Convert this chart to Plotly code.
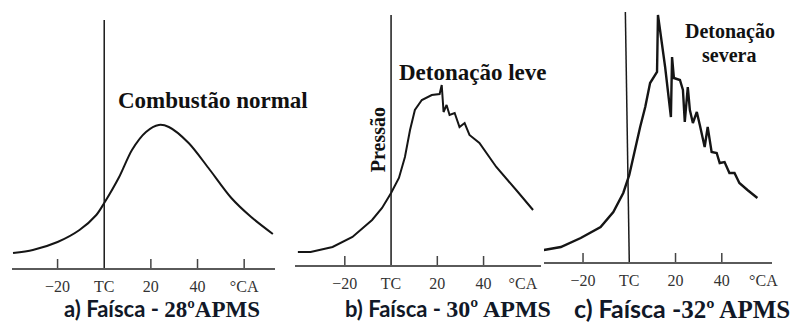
import plotly.graph_objects as go

W, H = 806, 322

# ---------------- data (crank angle in degrees, pressure in arbitrary units) -------------
a_deg = [-39.1, -30.6, -20.0, -10.6, -3.4, 0.0, 6.4, 11.9, 17.9, 23.4, 27.7, 36.2, 44.7, 54.5, 63.0, 72.3]
a_p = [15, 18, 26, 38, 53, 65, 91, 118, 136, 143, 141, 125, 100, 70, 51, 34]

b_deg = [-40.3, -34.8, -25.3, -16.7, -8.2, -3.9, 0.0, 3.4, 6.0, 8.2, 10.3, 13.3, 17.6, 21.0, 21.9,
         22.7, 24.0, 25.3, 27.5, 29.6, 31.8, 33.9, 38.2, 45.5, 54.1, 61.4]
b_p = [13, 13, 18, 28, 45, 57, 72, 87, 108, 135, 155, 165, 170, 171, 180,
       153, 160, 150, 152, 138, 142, 130, 122, 98, 75, 55]

c_deg = [-36.9, -29.6, -21.0, -12.4, -6.9, -2.6, 0.0, 2.6, 4.7, 6.9, 9.0, 12.0, 12.4, 13.3, 15.5,
         18.0, 18.5, 19.3, 21.9, 23.2, 24.0, 25.3, 26.2, 27.5, 29.2, 30.5, 32.6, 33.9, 35.6, 37.8,
         39.1, 41.2, 43.3, 45.5, 47.6, 51.1, 55.4]
c_p = [12, 15, 24, 35, 50, 69, 87, 115, 135, 155, 179, 190, 247, 232, 195,
       145, 205, 184, 182, 172, 140, 175, 152, 139, 150, 137, 115, 135, 110, 109,
       99, 100, 89, 89, 79, 72, 64]

tick_vals = [-20, 0, 20, 40]
tick_text = ["\u221220", "TC", "20", "40"]
ca_label_pos = [60, 57, 58]
tick_marks = [[-20, 20, 40, 60], [-20, 20, 40], [-20, 20, 40]]
tc_top = [248, 250, 250]
tc_top_x = [0.0, 0.0, -1.7]

titles = ["Combustão normal", "Detonação leve", "Detonação", "severa"]
captions = [("a) Faísca - ", "28ºAPMS"), ("b) Faísca - ", "30º APMS"), ("c) Faísca -", "32º APMS")]

# ---------------- layout geometry (pixels) ----------------
panels = [
    dict(x0=12, x1=277, tc=105, scale=2.35, base=268),
    dict(x0=297, x1=545, tc=394, scale=2.33, base=265),
    dict(x0=548, x1=778, tc=634, scale=2.33, base=262),
]
TOP = 10

def fx(px):
    return px / W

def fy(py):
    return (H - py) / H

fig = go.Figure()
series = [(a_deg, a_p, "spline"), (b_deg, b_p, "linear"), (c_deg, c_p, "linear")]
widths = [2, 2, 2.4]
shapes = []
annotations = []
serif = "Liberation Serif"

for i, (p, (xs, ys, shape)) in enumerate(zip(panels, series)):
    n = "" if i == 0 else str(i + 1)
    xr = [(p["x0"] - p["tc"]) / p["scale"], (p["x1"] - p["tc"]) / p["scale"]]
    fig.add_trace(go.Scatter(x=xs, y=ys, mode="lines",
                             line=dict(color="#151515", width=widths[i], shape=shape, smoothing=0.8),
                             xaxis="x" + n, yaxis="y" + n, showlegend=False, hoverinfo="skip"))
    fig.layout["xaxis" + n] = dict(
        domain=[fx(p["x0"]), fx(p["x1"])], range=xr, anchor="y" + n,
        showgrid=False, zeroline=False, showline=True, linecolor="#5a5a5a", linewidth=1.5,
        ticks="", tickvals=tick_vals + [ca_label_pos[i]], ticktext=tick_text + ["°CA"],
        ticklabelstandoff=3,
        tickfont=dict(family=serif, size=16, color="#333333"), fixedrange=True,
    )
    fig.layout["yaxis" + n] = dict(
        domain=[fy(p["base"]), fy(TOP)], range=[0, p["base"] - TOP], anchor="x" + n,
        visible=False, fixedrange=True,
    )
    # tick marks
    for t in tick_marks[i]:
        shapes.append(dict(type="line", xref="x" + n, yref="y" + n, x0=t, x1=t, y0=0, y1=9,
                           line=dict(color="#444444", width=1.5)))
    # TC line
    shapes.append(dict(type="line", xref="x" + n, yref="y" + n, x0=0, x1=tc_top_x[i], y0=0, y1=tc_top[i],
                       line=dict(color="#1a1a1a", width=1.5)))

def note(text, px, py, size, family=serif, angle=0, color="#111"):
    annotations.append(dict(text=text, x=fx(px), y=fy(py), xref="paper", yref="paper",
                            xanchor="center", yanchor="middle", showarrow=False, textangle=angle,
                            font=dict(family=family, size=size, color=color)))

note("<b>" + titles[0] + "</b>", 215, 100, 23)
note("<b>" + titles[1] + "</b>", 477, 72, 23)
note("<b>" + titles[2] + "</b>", 735, 32, 20)
note("<b>" + titles[3] + "</b>", 734, 55, 20)
note("<b>Pressão</b>", 381, 140, 20, angle=-90)

cap_x = [163, 451, 687]
cap_sizes = [(22, 23), (22, 24), (25, 25)]
for (s1, s2), cx, (sz1, sz2) in zip(captions, cap_x, cap_sizes):
    txt = ("<b><span style='font-family:Lato'>" + s1 + "</span>"
           "<span style='font-family:\"Liberation Serif\"; font-size:" + str(sz2) + "px'>" + s2 + "</span></b>")
    note(txt, cx, 308, sz1, family="Lato", color="#111827")

fig.update_layout(width=W, height=H, margin=dict(l=0, r=0, t=0, b=0),
                  paper_bgcolor="white", plot_bgcolor="white",
                  shapes=shapes, annotations=annotations)

fig.write_html("out.html")
